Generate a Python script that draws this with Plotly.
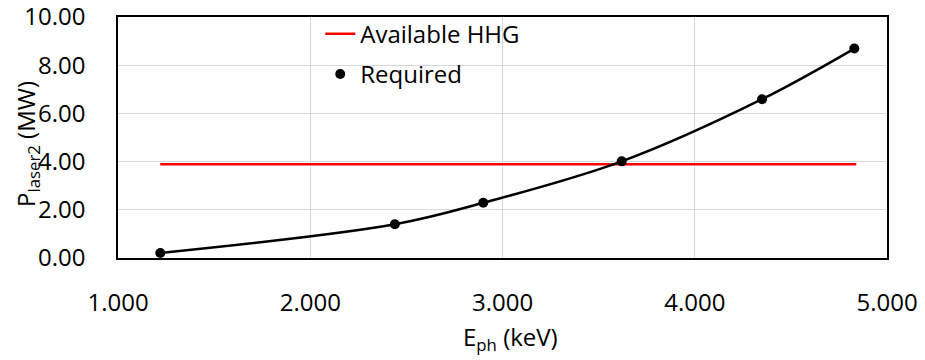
import plotly.graph_objects as go

# Data
e_ph = [1.22, 2.44, 2.90, 3.62, 4.35, 4.83]          # keV
p_required = [0.21, 1.40, 2.29, 4.01, 6.59, 8.69]     # MW
hhg_x = [1.22, 4.84]
hhg_y = [3.89, 3.89]
x_title = "E<sub>ph</sub> (keV)"
y_title = "P<sub>laser2</sub> (MW)"

FONT = "Open Sans"
fig = go.Figure()
fig.add_trace(go.Scatter(x=hhg_x, y=hhg_y, mode="lines", name="Available HHG",
                         legendgroup="a",
                         line=dict(color="#ff0000", width=2.5)))
fig.add_trace(go.Scatter(x=e_ph, y=p_required, mode="lines", showlegend=False,
                         legendgroup="b",
                         line=dict(color="black", width=2.5, shape="spline", smoothing=1.0),
                         hoverinfo="skip"))
fig.add_trace(go.Scatter(x=e_ph, y=p_required, mode="markers", name="Required",
                         legendgroup="b",
                         marker=dict(color="black", size=10)))

fig.update_layout(
    width=925, height=360,
    margin=dict(l=118, r=38, t=12, b=102),
    paper_bgcolor="white", plot_bgcolor="white",
    font=dict(family=FONT, size=24, color="black"),
    showlegend=True,
    legend=dict(x=0.263, y=1.022, xanchor="left", yanchor="top",
                bgcolor="rgba(0,0,0,0)", font=dict(size=24),
                traceorder="grouped", tracegroupgap=6),
    annotations=[
        dict(text=x_title, xref="paper", yref="paper", x=0.5098, y=-0.333,
             xanchor="center", yanchor="middle", showarrow=False,
             font=dict(size=24)),
        dict(text=y_title, xref="paper", yref="paper", x=-0.1175, y=0.4715,
             xanchor="center", yanchor="middle", showarrow=False, textangle=-90,
             font=dict(size=24)),
    ],
)
fig.update_xaxes(range=[1, 5], dtick=1, tickformat=".3f", automargin=False,
                 ticklabeloverflow="allow",
                 showgrid=True, gridcolor="#d9d9d9", gridwidth=1,
                 showline=True, linecolor="black", linewidth=1.5, mirror=True,
                 zeroline=False, ticks="", ticklabelstandoff=22)
fig.update_yaxes(range=[0, 10], dtick=2, tickformat=".2f", automargin=False,
                 ticklabeloverflow="allow",
                 showgrid=True, gridcolor="#d9d9d9", gridwidth=1,
                 showline=True, linecolor="black", linewidth=1.5, mirror=True,
                 zeroline=False, ticks="", ticklabelstandoff=26)

fig.write_html("out.html", config={"displayModeBar": False},
               post_script="document.body.style.margin='0px';")
